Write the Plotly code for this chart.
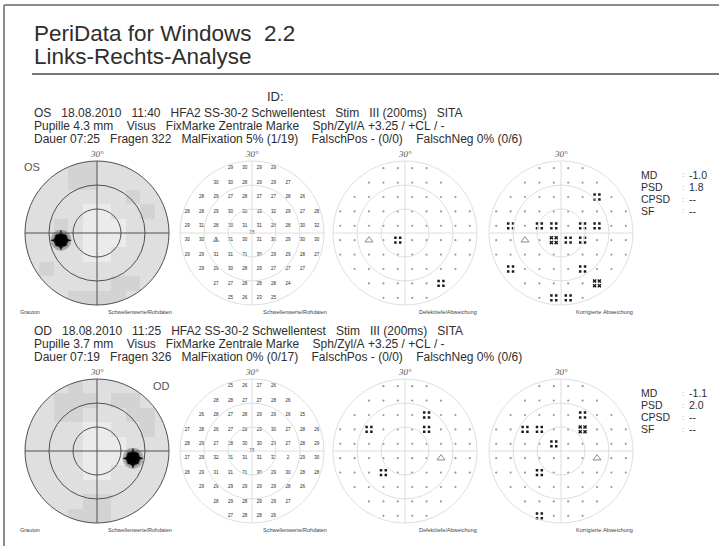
import math
import plotly.graph_objects as go

W, H = 719, 546
PX_PER_DEG = 2.4
HALF = 32
FONT = "Liberation Sans, Arial, sans-serif"
INK = "#2e2e2e"

# ---------------- data ----------------
title_lines = ["PeriData for Windows  2.2", "Links-Rechts-Analyse"]
id_label = "ID:"
os_header = [
    "OS   18.08.2010   11:40   HFA2 SS-30-2 Schwellentest   Stim   III (200ms)   SITA",
    "Pupille 4.3 mm    Visus   FixMarke Zentrale Marke    Sph/Zyl/A +3.25 / +CL / -",
    "Dauer 07:25   Fragen 322   MalFixation 5% (1/19)    FalschPos - (0/0)    FalschNeg 0% (0/6)",
]
od_header = [
    "OD   18.08.2010   11:25   HFA2 SS-30-2 Schwellentest   Stim   III (200ms)   SITA",
    "Pupille 3.7 mm    Visus   FixMarke Zentrale Marke    Sph/Zyl/A +3.25 / +CL / -",
    "Dauer 07:19   Fragen 326   MalFixation 0% (0/17)    FalschPos - (0/0)    FalschNeg 0% (0/6)",
]
eye_labels = ["OS", "OD"]
panel_labels = ["Schwellenwerte/Rohdaten", "Schwellenwerte/Rohdaten",
                "Defekttiefe/Abweichung", "Korrigierte Abweichung"]
gray_label = "Grauton"
degree_label = "30°"
stat_labels = ["MD", "PSD", "CPSD", "SF"]
os_stats = ["-1.0", "1.8", "--", "--"]
od_stats = ["-1.1", "2.0", "--", "--"]

# 30-2 test grid (degrees)
grid_rows_y = [27, 21, 15, 9, 3, -3, -9, -15, -21, -27]
grid_rows_halfwidth = [9, 15, 21, 27, 27, 27, 27, 21, 15, 9]
grid_step = 6
circle_radii = [10, 20, 30]

os_threshold = [
    [29, 30, 29, 29],
    [30, 30, 28, 29, 29, 27],
    [28, 29, 27, 28, 27, 27, 28, 26],
    [28, 28, 29, 30, 30, 33, 32, 29, 27, 28],
    [29, 31, 28, 30, 31, 31, 28, 28, 30, 32],
    [30, 30, 3, 31, 30, 31, 30, 29, 30, 30],
    [29, 29, 31, 31, 31, 30, 29, 29, 28, 27],
    [29, 29, 30, 28, 29, 27, 27, 27],
    [27, 27, 28, 28, 28, 24],
    [25, 26, 23, 25],
]
os_foveal = 35
od_threshold = [
    [25, 26, 27, 26],
    [28, 28, 27, 27, 28, 26],
    [26, 28, 27, 28, 29, 29, 26, 25],
    [27, 28, 26, 27, 28, 29, 30, 27, 28, 26],
    [28, 29, 27, 28, 30, 30, 29, 27, 28, 29],
    [27, 29, 32, 31, 31, 31, 32, 2, 29, 30],
    [28, 29, 31, 31, 31, 30, 29, 30, 28, 28],
    [29, 29, 29, 29, 29, 29, 28, 26],
    [28, 29, 28, 29, 29, 27],
    [27, 28, 28, 26],
]
od_foveal = 36
os_blind_spot = (-15, -3)
od_blind_spot = (15, -3)

# grey-tone level per test location (0 light ... 3 dark)
os_gray = [
    [2, 2, 1, 1],
    [1, 2, 2, 1, 1, 1],
    [1, 1, 1, 1, 1, 1, 2, 1],
    [1, 1, 1, 1, 0, 0, 1, 1, 2, 1],
    [1, 1, 2, 1, 0, 0, 0, 1, 1, 1],
    [1, 1, 2, 1, 0, 0, 0, 1, 1, 1],
    [1, 1, 1, 1, 0, 0, 1, 1, 1, 1],
    [2, 1, 1, 1, 1, 1, 1, 1],
    [1, 1, 1, 1, 2, 2],
    [2, 2, 2, 2],
]
od_gray = [
    [2, 1, 1, 1],
    [2, 2, 2, 1, 2, 2],
    [1, 2, 2, 1, 1, 1, 2, 2],
    [1, 1, 1, 1, 0, 0, 1, 1, 2, 1],
    [1, 1, 1, 1, 0, 0, 0, 1, 1, 1],
    [1, 1, 1, 1, 0, 0, 0, 2, 1, 1],
    [1, 1, 1, 1, 0, 0, 1, 1, 1, 1],
    [1, 1, 1, 1, 1, 1, 1, 1],
    [1, 1, 2, 2, 1, 1],
    [2, 2, 2, 1],
]

# significant deviations (test locations)
os_defect_p5 = [(-3, -3), (15, -21)]
os_defect_p2 = []
os_corr_p5 = [(15, 15), (-21, 3), (-9, 3), (-3, 3), (9, 3), (15, 3), (3, -3), (9, -3),
              (-21, -15), (9, -15), (-3, -27), (3, -27)]
os_corr_p2 = [(-3, -3), (15, -21)]
od_defect_p5 = [(9, 15), (-15, 9), (9, 9), (-9, -9)]
od_defect_p2 = []
od_corr_p5 = [(9, 15), (-15, 9), (-9, 9), (-3, 3), (-9, -9), (-9, -27)]
od_corr_p2 = [(9, 9)]

# ---------------- layout constants ----------------
centres_x = [97, 252, 405, 561]
centres_y = [233, 451]
header_top_y = [113, 331]
header_line_gap = 13

# ---------------- figure ----------------
fig = go.Figure()
layout = dict(width=W, height=H, margin=dict(l=0, r=0, t=0, b=0),
              paper_bgcolor="white", plot_bgcolor="white", showlegend=False)
shapes = []
annotations = []


def px(x):
    return x / W


def py(y):
    return 1 - y / H


def add_axes(i, cx, cy):
    h = HALF * PX_PER_DEG
    sfx = "" if i == 1 else str(i)
    layout["xaxis" + sfx] = dict(domain=[(cx - h) / W, (cx + h) / W], range=[-HALF, HALF],
                                 visible=False, anchor="y" + sfx, fixedrange=True)
    layout["yaxis" + sfx] = dict(domain=[1 - (cy + h) / H, 1 - (cy - h) / H], range=[-HALF, HALF],
                                 visible=False, anchor="x" + sfx, fixedrange=True)
    return "x" + sfx, "y" + sfx


def grid_points():
    rows = []
    for y, hw in zip(grid_rows_y, grid_rows_halfwidth):
        rows.append([(x, y) for x in range(-hw, hw + 1, grid_step)])
    return rows


def add_rings(xr, yr, color, width):
    for r in circle_radii:
        shapes.append(dict(type="circle", xref=xr, yref=yr, x0=-r, x1=r, y0=-r, y1=r,
                           line=dict(color=color, width=width), layer="above"))
    R = max(circle_radii)
    shapes.append(dict(type="line", xref=xr, yref=yr, x0=-R, x1=R, y0=0, y1=0,
                       line=dict(color=color, width=width), layer="above"))
    shapes.append(dict(type="line", xref=xr, yref=yr, x0=0, x1=0, y0=-R, y1=R,
                       line=dict(color=color, width=width), layer="above"))


def mask_path(R):
    n = 120
    p = f"M {-HALF},{-HALF} L {HALF},{-HALF} L {HALF},{HALF} L {-HALF},{HALF} Z "
    pts = [(R * math.cos(2 * math.pi * k / n), R * math.sin(2 * math.pi * k / n)) for k in range(n)]
    p += "M " + " L ".join(f"{a:.3f},{b:.3f}" for a, b in pts) + " Z"
    return p


def gray_panel(i, cx, cy, gray, blind):
    xr, yr = add_axes(i, cx, cy)
    R = max(circle_radii)
    shapes.append(dict(type="circle", xref=xr, yref=yr, x0=-R, x1=R, y0=-R, y1=R,
                       fillcolor="#dfdfdf", line=dict(width=0), layer="below"))
    xs = list(range(-27, 28, grid_step))
    z = []
    for (y, hw), vals in zip(zip(grid_rows_y, grid_rows_halfwidth), gray):
        row = [None] * len(xs)
        for x, v in zip(range(-hw, hw + 1, grid_step), vals):
            row[xs.index(x)] = v
        z.append(row)
    fig.add_trace(go.Heatmap(x=xs, y=grid_rows_y, z=z, zmin=0, zmax=3, showscale=False,
                             colorscale=[[0, "#ebebeb"], [0.33, "#dfdfdf"], [0.66, "#d3d3d3"], [1, "#c4c4c4"]],
                             hoverinfo="skip", xaxis=xr, yaxis=yr))
    shapes.append(dict(type="path", xref=xr, yref=yr, path=mask_path(R), fillcolor="white",
                       fillrule="evenodd", line=dict(width=0), layer="above"))
    add_rings(xr, yr, "#505050", 1)
    bx, by = blind
    for sym, size, col in (("circle", 21, "rgba(60,60,60,0.35)"), ("circle", 15, "rgba(20,20,20,0.7)"),
                           ("star-diamond", 15, "#0a0a0a"), ("square", 11, "#000")):
        fig.add_trace(go.Scatter(x=[bx], y=[by], mode="markers", xaxis=xr, yaxis=yr, hoverinfo="skip",
                                 marker=dict(symbol=sym, size=size, color=col, line=dict(width=0))))


def threshold_panel(i, cx, cy, values, foveal, blind, show_triangle):
    xr, yr = add_axes(i, cx, cy)
    add_rings(xr, yr, "#dedede", 1)
    tx, ty, tt = [], [], []
    for row, vals in zip(grid_points(), values):
        for (x, y), v in zip(row, vals):
            tx.append(x)
            ty.append(y)
            tt.append(str(v))
    tx.append(0)
    ty.append(0)
    tt.append(str(foveal))
    fig.add_trace(go.Scatter(x=tx, y=ty, text=tt, mode="text", xaxis=xr, yaxis=yr, hoverinfo="skip",
                             textfont=dict(family=FONT, size=4.5, color="#1e1e1e")))
    if show_triangle:
        fig.add_trace(go.Scatter(x=[blind[0]], y=[blind[1]], mode="markers", xaxis=xr, yaxis=yr,
                                 hoverinfo="skip", marker=dict(symbol="triangle-up-open", size=5,
                                                               color="#999", line=dict(width=1))))


def deviation_panel(i, cx, cy, p5, p2, blind):
    xr, yr = add_axes(i, cx, cy)
    add_rings(xr, yr, "#dedede", 1)
    special = set(p5) | set(p2) | {blind}
    dx, dy = [], []
    for row in grid_points():
        for (x, y) in row:
            if (x, y) not in special:
                dx.append(x)
                dy.append(y)
    fig.add_trace(go.Scatter(x=dx, y=dy, mode="markers", xaxis=xr, yaxis=yr, hoverinfo="skip",
                             marker=dict(symbol="circle", size=2.2, color="#9a9a9a", line=dict(width=0))))
    off = 1.0
    for pts, sym, size in ((p5, "square", 2.5), (p2, "x", 3.6)):
        if not pts:
            continue
        sx, sy = [], []
        for (x, y) in pts:
            for ox in (-off, off):
                for oy in (-off, off):
                    sx.append(x + ox)
                    sy.append(y + oy)
        fig.add_trace(go.Scatter(x=sx, y=sy, mode="markers", xaxis=xr, yaxis=yr, hoverinfo="skip",
                                 marker=dict(symbol=sym, size=size, color="#1a1a1a", line=dict(width=0))))
    fig.add_trace(go.Scatter(x=[blind[0]], y=[blind[1]], mode="markers", xaxis=xr, yaxis=yr,
                             hoverinfo="skip", marker=dict(symbol="triangle-up-open", size=7,
                                                           color="#8a8a8a", line=dict(width=1))))


def text(x, y, s, size, color=INK, xanchor="left", yanchor="middle", family=FONT):
    annotations.append(dict(x=px(x), y=py(y), xref="paper", yref="paper", text=s.replace(" ", "\u00a0"),
                            showarrow=False, xanchor=xanchor, yanchor=yanchor,
                            font=dict(family=family, size=size, color=color)))


# panels
eyes = [
    (os_gray, os_threshold, os_foveal, os_blind_spot, os_defect_p5, os_defect_p2, os_corr_p5, os_corr_p2, True),
    (od_gray, od_threshold, od_foveal, od_blind_spot, od_defect_p5, od_defect_p2, od_corr_p5, od_corr_p2, False),
]
idx = 1
for r, (gray, thr, fov, blind, d5, d2, c5, c2, tri) in enumerate(eyes):
    cy = centres_y[r]
    gray_panel(idx, centres_x[0], cy, gray, blind)
    threshold_panel(idx + 1, centres_x[1], cy, thr, fov, blind, tri)
    deviation_panel(idx + 2, centres_x[2], cy, d5, d2, blind)
    deviation_panel(idx + 3, centres_x[3], cy, c5, c2, blind)
    idx += 4
    for cx in centres_x:
        text(cx, cy - 72, "<i>" + degree_label + "</i>", 9, "#555", xanchor="center", yanchor="bottom",
             family="Liberation Serif, Times New Roman, serif")
    lab_y = cy + 79
    text(18, lab_y, gray_label, 5.5, "#444")
    for k in range(4):
        text(centres_x[k] + 43, lab_y, panel_labels[k], 5.5, "#444", xanchor="center")
    stats = os_stats if r == 0 else od_stats
    for j, (lab, val) in enumerate(zip(stat_labels, stats)):
        yy = cy - 58 + j * 12
        text(639, yy, lab, 10.5)
        text(680, yy, ":", 8, "#999")
        text(687, yy, val, 10.5)

text(32, 167, eye_labels[0], 11, "#555", xanchor="center")
text(161, 386, eye_labels[1], 11, "#555", xanchor="center")

# header block
text(32, 33, title_lines[0], 22.5)
text(32, 57, title_lines[1], 22.5)
text(265, 96, id_label, 13)
for top, block in zip(header_top_y, (os_header, od_header)):
    for j, line in enumerate(block):
        text(32, top + j * header_line_gap, line, 12)

# frame and rule
shapes.append(dict(type="line", xref="paper", yref="paper", x0=px(4), x1=px(4), y0=py(5), y1=py(546),
                   line=dict(color="#8c8c8c", width=2)))
shapes.append(dict(type="line", xref="paper", yref="paper", x0=px(4), x1=px(719), y0=py(5), y1=py(5),
                   line=dict(color="#8c8c8c", width=2)))
shapes.append(dict(type="line", xref="paper", yref="paper", x0=px(32), x1=px(719), y0=py(74), y1=py(74),
                   line=dict(color="#777", width=2)))

layout["shapes"] = shapes
layout["annotations"] = annotations
fig.update_layout(**layout)
fig.write_html("out.html")
